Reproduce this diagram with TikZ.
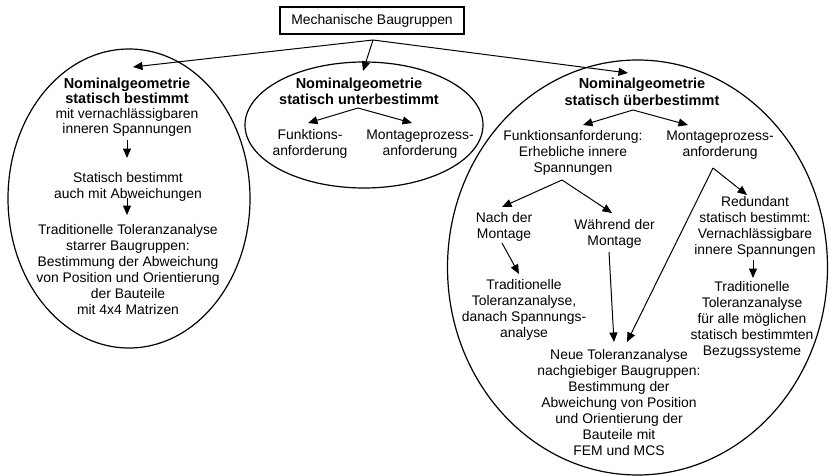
\documentclass[tikz,border=0pt]{standalone}
\usepackage{fontspec}
\setmainfont{Liberation Sans}
\usetikzlibrary{arrows.meta}
\newcommand\hdline[1]{{\fontsize{14.5}{15}\selectfont\bfseries #1}}
\begin{document}
\begin{tikzpicture}[x=1pt,y=-1pt,
  txt/.style={align=center,inner sep=0pt,font=\fontsize{13.9}{16}\selectfont},
  hd/.style={align=center,inner sep=0pt,font=\fontsize{14.5}{16.5}\selectfont\bfseries},
  conn/.style={-{Triangle[length=9.5pt,width=8pt]},line width=1pt},
  group/.style={line width=1.2pt}]
\useasboundingbox[fill=white] (0,0) rectangle (829,476);

% the three groups of assemblies
\draw[group] (129,198.5) ellipse [x radius=121,y radius=149.5];
\draw[group] (364,125) ellipse [x radius=119,y radius=63];
\draw[group] (637.5,267.5) ellipse [x radius=190,y radius=207.5];

% root
\node[txt,draw,line width=1.1pt,minimum width=184pt,minimum height=27pt] (top) at (372,20.5) {Mechanische Baugruppen};

% left group: statically determined
\node[txt,font=\fontsize{13.9}{15}\selectfont] (nomL) at (127,107)
  {\hdline{Nominalgeometrie}\\\hdline{statisch bestimmt}\\mit vernachlässigbaren\\inneren Spannungen};
\node[txt] (stL) at (128,186.5) {Statisch bestimmt\\auch mit Abweichungen};
\node[txt] (trL) at (128,269.5) {Traditionelle Toleranzanalyse\\starrer Baugruppen:\\Bestimmung der Abweichung\\von Position und Orientierung\\der Bauteile\\mit 4x4 Matrizen};

% middle group: statically underdetermined
\node[hd] (nomM) at (359,91.5) {Nominalgeometrie\\statisch unterbestimmt};
\node[txt] (fM) at (310,144) {Funktions-\\anforderung};
\node[txt] (mM) at (420,144) {Montageprozess-\\anforderung};

% right group: statically overdetermined
\node[hd] (nomR) at (642,92) {Nominalgeometrie\\statisch überbestimmt};
\node[txt] (fR) at (573,153) {Funktionsanforderung:\\Erhebliche innere\\Spannungen};
\node[txt] (mR) at (720,145.5) {Montageprozess-\\anforderung};
\node[txt] (nach) at (504,227) {Nach der\\Montage};
\node[txt] (wahr) at (614.5,233.5) {Während der\\Montage};
\node[txt] (trR) at (524,309.5) {Traditionelle\\Toleranzanalyse,\\danach Spannungs-\\analyse};
\node[txt] (red) at (755,226.5) {Redundant\\statisch bestimmt:\\Vernachlässigbare\\innere Spannungen};
\node[txt] (trB) at (752,320) {Traditionelle\\Toleranzanalyse\\für alle möglichen\\statisch bestimmten\\Bezugssysteme};
\node[txt] (neu) at (619,403) {Neue Toleranzanalyse\\nachgiebiger Baugruppen:\\Bestimmung der\\Abweichung von Position\\und Orientierung der\\Bauteile mit\\FEM und MCS};

% connector end points
\coordinate (root) at (373,40);
\coordinate (tL) at (133,67);
\coordinate (tM) at (363,71);
\coordinate (tR) at (628,73);
\coordinate (l1a) at (127,140);
\coordinate (l1b) at (127,158);
\coordinate (l2a) at (127,198);
\coordinate (l2b) at (127,215);
\coordinate (m0) at (358,108);
\coordinate (m1) at (308,123);
\coordinate (m2) at (412,123);
\coordinate (r0) at (633,110);
\coordinate (r1) at (583,125);
\coordinate (r2) at (688,125);
\coordinate (f0) at (562,180);
\coordinate (f1) at (502,207);
\coordinate (f2) at (612,213);
\coordinate (n0) at (502,243);
\coordinate (n1) at (519,274);
\coordinate (w0) at (609,252);
\coordinate (w1) at (614,342);
\coordinate (v0) at (713,168);
\coordinate (v1) at (627,342);
\coordinate (v2) at (747,195);
\coordinate (d0) at (753,260);
\coordinate (d1) at (753,278);

% connectors
\draw[conn] (root) -- (tL);
\draw[conn] (root) -- (tM);
\draw[conn] (root) -- (tR);
\draw[conn] (l1a) -- (l1b);
\draw[conn] (l2a) -- (l2b);
\draw[conn] (m0) -- (m1);
\draw[conn] (m0) -- (m2);
\draw[conn] (r0) -- (r1);
\draw[conn] (r0) -- (r2);
\draw[conn] (f0) -- (f1);
\draw[conn] (f0) -- (f2);
\draw[conn] (n0) -- (n1);
\draw[conn] (w0) -- (w1);
\draw[conn] (v0) -- (v1);
\draw[conn] (v0) -- (v2);
\draw[conn] (d0) -- (d1);
\end{tikzpicture}
\end{document}
